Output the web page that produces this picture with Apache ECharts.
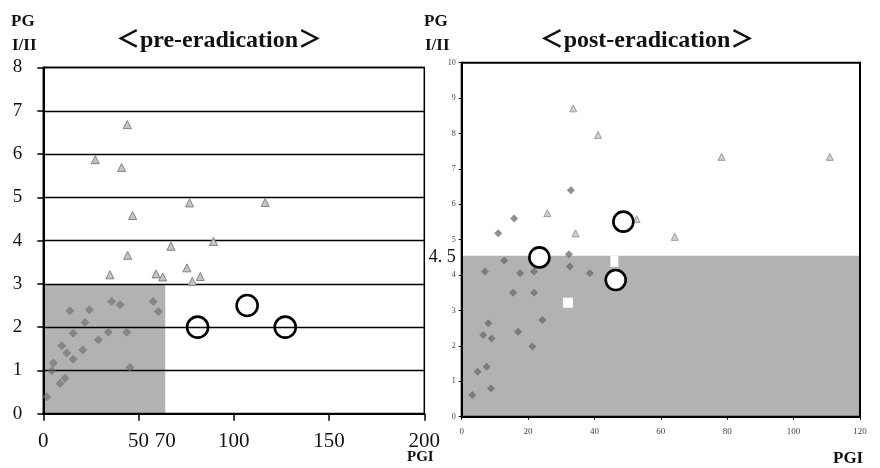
<!DOCTYPE html>
<html>
<head>
<meta charset="utf-8">
<script src="https://cdn.jsdelivr.net/npm/echarts@6/dist/echarts.min.js"></script>
<style>html,body{margin:0;padding:0;background:#fff}#c{width:880px;height:468px}</style>
</head>
<body>
<div id="c"></div>
<script>
// ---- pre-eradication panel data ----
const preTriX = [44.1, 27.3, 41.1, 76.8, 116.5, 46.9, 89.3, 67.0, 44.3, 75.4, 35.0, 59.2, 62.7, 82.4, 78.2];
const preTriY = [6.68, 5.87, 5.69, 4.87, 4.88, 4.58, 3.98, 3.87, 3.66, 3.37, 3.21, 3.23, 3.16, 3.17, 3.06];
const preDiaX = [35.9, 40.3, 57.7, 60.4, 14.0, 24.2, 21.9, 34.1, 43.8, 15.7, 28.9, 9.7, 20.7, 12.3, 15.7, 5.3, 4.4, 45.5, 11.4, 8.8, 1.8];
const preDiaY = [2.59, 2.52, 2.59, 2.36, 2.38, 2.40, 2.11, 1.88, 1.88, 1.86, 1.71, 1.57, 1.47, 1.40, 1.26, 1.17, 0.99, 1.07, 0.82, 0.70, 0.39];
const preCircX = [81, 107, 127];
const preCircY = [2, 2.5, 2];
const preShade = [[0, 0], [64, 3]];
const preXTicks = [0, 50, 64, 100, 150, 200];
const preXTickText = ['0', '50', '70', '100', '150', '200'];

// ---- post-eradication panel data ----
const postTriX = [33.6, 41.1, 25.8, 34.3, 52.7, 78.3, 110.9, 64.2];
const postTriY = [8.71, 7.96, 5.75, 5.18, 5.58, 7.34, 7.34, 5.08];
const postDiaX = [32.9, 15.8, 11.0, 32.3, 32.6, 12.8, 7.0, 17.6, 21.8, 38.6, 15.5, 21.8, 24.3, 8.0, 17.0, 6.5, 9.0, 21.3, 7.5, 4.8, 8.8, 3.2];
const postDiaY = [6.40, 5.60, 5.18, 4.59, 4.24, 4.41, 4.10, 4.05, 4.10, 4.05, 3.50, 3.50, 2.73, 2.64, 2.40, 2.31, 2.21, 1.98, 1.41, 1.27, 0.80, 0.61];
const postCircX = [23.4, 46.4, 48.7];
const postCircY = [4.5, 3.86, 5.51];
const postWhiteX = [32, 46];
const postWhiteY = [3.22, 4.39];
const postShade = [[0, 0], [120, 4.55]];
const postYTicks = [0, 1, 2, 3, 4, 4.5, 5, 6, 7, 8, 9, 10];

const titles = ['＜pre-eradication＞', '＜post-eradication＞'];

const zip = (xs, ys) => xs.map((x, i) => [x, ys[i]]);
const SERIF = "'Liberation Serif', 'DejaVu Serif', 'Noto Sans CJK JP', serif";

const chart = echarts.init(document.getElementById('c'), null, {renderer: 'canvas'});

const boldText = (text, left, top, size, align) => ({
  text, left, top, textAlign: align || 'left', padding: 0,
  textStyle: {fontFamily: SERIF, fontWeight: 'bold', fontSize: size, color: '#111'}
});

chart.setOption({
  backgroundColor: '#fff',
  animation: false,
  title: [
    boldText(titles[0], 219, 29, 24, 'center'),
    boldText(titles[1], 647, 29, 24, 'center'),
    boldText('PG', 11, 13, 17),
    boldText('I/II', 12, 37, 17),
    boldText('PG', 424, 13, 17),
    boldText('I/II', 425, 37, 17),
    boldText('PGI', 407, 450, 15),
    boldText('PGI', 833, 450, 17)
  ],
  grid: [
    {left: 43.3, top: 67.5, width: 381, height: 346.2, show: true, borderColor: '#000', borderWidth: 1.5, backgroundColor: 'transparent'},
    {left: 461.7, top: 62.7, width: 398.3, height: 354, show: true, borderColor: '#000', borderWidth: 2, backgroundColor: 'transparent'}
  ],
  xAxis: [
    {
      gridIndex: 0, type: 'value', min: 0, max: 200, interval: 50,
      axisLine: {show: true, onZero: false, lineStyle: {color: '#000', width: 2}},
      axisTick: {show: true, length: 7, lineStyle: {color: '#000', width: 1.5}},
      axisLabel: {
        customValues: preXTicks, margin: 17, color: '#111', fontFamily: SERIF, fontSize: 21,
        formatter: v => preXTickText[preXTicks.indexOf(v)] ?? String(v)
      },
      splitLine: {show: false}
    },
    {
      gridIndex: 1, type: 'value', min: 0, max: 120, interval: 20,
      axisLine: {show: true, onZero: false, lineStyle: {color: '#000', width: 2}},
      axisTick: {show: true, length: 3, lineStyle: {color: '#000', width: 1}},
      axisLabel: {margin: 10, color: '#444', fontFamily: SERIF, fontSize: 9},
      splitLine: {show: false}
    }
  ],
  yAxis: [
    {
      gridIndex: 0, type: 'value', min: 0, max: 8, interval: 1,
      axisLine: {show: true, onZero: false, lineStyle: {color: '#000', width: 2}},
      axisTick: {show: true, length: 6, lineStyle: {color: '#000', width: 1.5}},
      axisLabel: {margin: 21, color: '#111', fontFamily: SERIF, fontSize: 19},
      splitLine: {show: true, lineStyle: {color: '#000', width: 1.3}}
    },
    {
      gridIndex: 1, type: 'value', min: 0, max: 10, interval: 1,
      axisLine: {show: true, onZero: false, lineStyle: {color: '#000', width: 2}},
      axisTick: {show: true, length: 3, lineStyle: {color: '#000', width: 1}},
      axisLabel: {
        customValues: postYTicks, margin: 6, color: '#444', fontFamily: SERIF, fontSize: 8,
        formatter: v => v === 4.5 ? '{big|4. 5}' : String(v),
        rich: {big: {fontFamily: SERIF, fontSize: 18, color: '#111', padding: [0, 0, 0, 0]}}
      },
      splitLine: {show: false}
    }
  ],
  series: [
    // shaded reference regions
    {
      type: 'scatter', xAxisIndex: 0, yAxisIndex: 0, data: [], z: 1, silent: true,
      markArea: {silent: true, itemStyle: {color: 'rgba(0,0,0,0.30)'}, data: [[{coord: preShade[0]}, {coord: preShade[1]}]]}
    },
    {
      type: 'scatter', xAxisIndex: 1, yAxisIndex: 1, data: [], z: 1, silent: true,
      markArea: {silent: true, itemStyle: {color: 'rgba(0,0,0,0.30)'}, data: [[{coord: postShade[0]}, {coord: postShade[1]}]]}
    },
    // pre panel
    {
      type: 'scatter', xAxisIndex: 0, yAxisIndex: 0, z: 3, symbol: 'diamond', symbolSize: 9,
      itemStyle: {color: '#6e6e6e', opacity: 0.65},
      data: zip(preDiaX, preDiaY)
    },
    {
      type: 'scatter', xAxisIndex: 0, yAxisIndex: 0, z: 3, symbol: 'triangle', symbolSize: 8,
      itemStyle: {color: '#c4c4c4', borderColor: '#777', borderWidth: 0.9, opacity: 1},
      data: zip(preTriX, preTriY)
    },
    {
      type: 'scatter', xAxisIndex: 0, yAxisIndex: 0, z: 5, symbol: 'circle', symbolSize: 21,
      itemStyle: {color: 'rgba(255,255,255,0)', borderColor: '#000', borderWidth: 2.6, opacity: 1},
      data: zip(preCircX, preCircY)
    },
    // post panel
    {
      type: 'scatter', xAxisIndex: 1, yAxisIndex: 1, z: 3, symbol: 'diamond', symbolSize: 8,
      itemStyle: {color: '#6a6a6a', opacity: 0.75},
      data: zip(postDiaX, postDiaY)
    },
    {
      type: 'scatter', xAxisIndex: 1, yAxisIndex: 1, z: 3, symbol: 'triangle', symbolSize: 7,
      itemStyle: {color: '#cfcfcf', borderColor: '#8a8a8a', borderWidth: 0.8, opacity: 1},
      data: zip(postTriX, postTriY)
    },
    {
      type: 'scatter', xAxisIndex: 1, yAxisIndex: 1, z: 4, symbol: 'rect',
      itemStyle: {color: '#fff', opacity: 1},
      data: [
        {value: [postWhiteX[0], postWhiteY[0]], symbolSize: [10, 10]},
        {value: [postWhiteX[1], postWhiteY[1]], symbolSize: [8, 11]}
      ]
    },
    {
      type: 'scatter', xAxisIndex: 1, yAxisIndex: 1, z: 5, symbol: 'circle', symbolSize: 20,
      itemStyle: {color: '#fff', borderColor: '#000', borderWidth: 2.6, opacity: 1},
      data: zip(postCircX, postCircY)
    }
  ]
});
</script>
</body>
</html>
